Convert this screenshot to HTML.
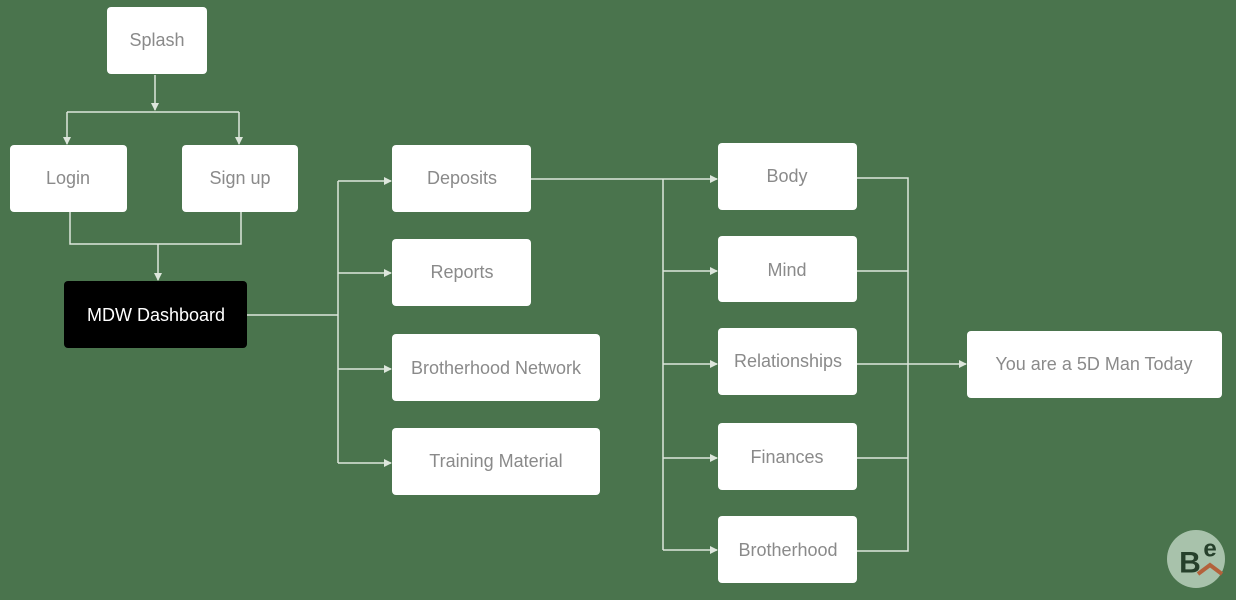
<!DOCTYPE html>
<html><head><meta charset="utf-8"><style>
html,body{margin:0;padding:0;background:#4a744d;}
svg{display:block}
text{font-family:"Liberation Sans",sans-serif;font-size:18px;fill:#8a8a8a;text-anchor:middle;dominant-baseline:central}
</style></head><body>
<svg width="1236" height="600" viewBox="0 0 1236 600">
<defs><marker id="a" markerWidth="8" markerHeight="8" refX="7" refY="4" orient="auto" markerUnits="userSpaceOnUse"><path d="M0,0 L8,4 L0,8 z" fill="#dde6dc"/></marker></defs>
<g stroke="#dde6dc" stroke-width="1.5" fill="none">
<path d="M155,75 V110" marker-end="url(#a)"/>
<path d="M67,112 H239"/>
<path d="M67,112 V144" marker-end="url(#a)"/>
<path d="M239,112 V144" marker-end="url(#a)"/>
<path d="M70,212 V244 H241 V212"/>
<path d="M158,244 V280" marker-end="url(#a)"/>
<path d="M247,315 H338"/>
<path d="M338,181 V463"/>
<path d="M338,181 H391" marker-end="url(#a)"/>
<path d="M338,273 H391" marker-end="url(#a)"/>
<path d="M338,369 H391" marker-end="url(#a)"/>
<path d="M338,463 H391" marker-end="url(#a)"/>
<path d="M531,179 H717" marker-end="url(#a)"/>
<path d="M663,179 V550"/>
<path d="M663,271 H717" marker-end="url(#a)"/>
<path d="M663,364 H717" marker-end="url(#a)"/>
<path d="M663,458 H717" marker-end="url(#a)"/>
<path d="M663,550 H717" marker-end="url(#a)"/>
<path d="M857,178 H908 V551 H857"/>
<path d="M857,271 H908"/>
<path d="M857,458 H908"/>
<path d="M857,364 H966" marker-end="url(#a)"/>
</g>
<g fill="#fff">
<rect x="107" y="7" width="100" height="67" rx="4"/>
<rect x="10" y="145" width="117" height="67" rx="4"/>
<rect x="182" y="145" width="116" height="67" rx="4"/>
<rect x="64" y="281" width="183" height="67" rx="4" fill="#000"/>
<rect x="392" y="145" width="139" height="67" rx="4"/>
<rect x="392" y="239" width="139" height="67" rx="4"/>
<rect x="392" y="334" width="208" height="67" rx="4"/>
<rect x="392" y="428" width="208" height="67" rx="4"/>
<rect x="718" y="143" width="139" height="67" rx="4"/>
<rect x="718" y="236" width="139" height="66" rx="4"/>
<rect x="718" y="328" width="139" height="67" rx="4"/>
<rect x="718" y="423" width="139" height="67" rx="4"/>
<rect x="718" y="516" width="139" height="67" rx="4"/>
<rect x="967" y="331" width="255" height="67" rx="4"/>
</g>
<text x="157" y="40">Splash</text>
<text x="68" y="178">Login</text>
<text x="240" y="178">Sign up</text>
<text x="156" y="315" style="fill:#fff">MDW Dashboard</text>
<text x="462" y="178">Deposits</text>
<text x="462" y="272">Reports</text>
<text x="496" y="368">Brotherhood Network</text>
<text x="496" y="461">Training Material</text>
<text x="787" y="176">Body</text>
<text x="787" y="270">Mind</text>
<text x="788" y="361">Relationships</text>
<text x="787" y="457">Finances</text>
<text x="788" y="550">Brotherhood</text>
<text x="1094" y="364">You are a 5D Man Today</text>
<circle cx="1196" cy="559" r="29" fill="#a8c2ab"/>
<text x="1190" y="563" style="fill:#26402b;font-size:30px;font-weight:bold">B</text>
<text x="1210" y="549" style="fill:#26402b;font-size:24px;font-weight:bold">e</text>
<path d="M1198,574 L1210,565 L1222,574" stroke="#b3623b" stroke-width="4" fill="none"/>
</svg>
</body></html>
